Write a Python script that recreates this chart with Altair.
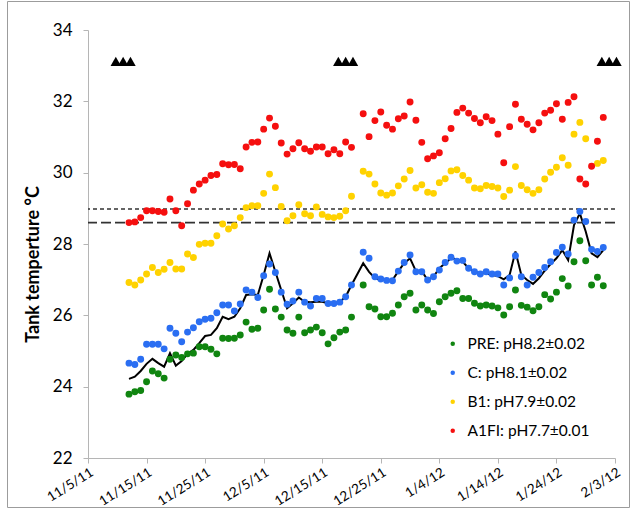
import altair as alt
import pandas as pd

# Daily readings, 11/12/11 - 2/1/12 (no reading on 12/21/11)
dates = [
    d.strftime("%Y-%m-%d")
    for d in pd.date_range("2011-11-12", "2012-02-01")
    if d.strftime("%Y-%m-%d") != "2011-12-21"
]

pre = [
    23.79, 23.86, 23.89, 24.14, 24.44, 24.36, 24.24, 24.77, 24.89, 24.82,
    24.92, 24.94, 25.12, 25.12, 25.05, 24.92, 25.36, 25.35, 25.36, 25.45,
    25.81, 25.61, 25.64, 26.15, 26.73, 26.18, 25.95, 25.59, 25.50, 25.95,
    25.51, 25.59, 25.67, 25.51, 25.20, 25.37, 25.53, 25.59, 25.95,
    26.85, 26.24, 26.18, 25.96, 25.96, 26.06, 26.29, 26.52, 26.62, 26.15,
    26.29, 26.15, 26.05, 26.38, 26.52, 26.62, 26.69, 26.47, 26.47, 26.34,
    26.26, 26.29, 26.26, 26.21, 26.01, 26.24, 26.71, 26.28, 26.23, 26.13,
    26.24, 26.58, 26.46, 26.65, 27.03, 26.82, 27.50, 28.09, 27.53, 26.85,
    27.07, 26.83,
]
c_ctrl = [
    24.66, 24.62, 24.77, 25.19, 25.19, 25.19, 25.06, 25.64, 25.50, 25.26,
    25.53, 25.65, 25.82, 25.89, 25.92, 26.07, 26.29, 26.29, 26.12, 26.32,
    26.71, 26.65, 26.50, 27.11, 27.44, 27.20, 26.65, 26.31, 26.40, 26.65,
    26.37, 26.26, 26.47, 26.47, 26.33, 26.33, 26.37, 26.52, 26.85,
    27.77, 27.60, 27.08, 27.02, 26.98, 26.97, 27.24, 27.48, 27.69, 27.22,
    27.22, 26.99, 27.08, 27.27, 27.48, 27.63, 27.52, 27.54, 27.32, 27.22,
    27.16, 27.22, 27.16, 27.16, 26.85, 27.05, 27.67, 27.08, 26.85, 27.07,
    27.20, 27.34, 27.50, 27.76, 27.91, 27.72, 28.67, 28.91, 28.63, 27.85,
    27.79, 27.90,
]
b1 = [
    26.92, 26.85, 26.99, 27.16, 27.34, 27.20, 27.29, 27.48, 27.30, 27.30,
    27.72, 27.62, 27.99, 28.02, 28.02, 28.23, 28.56, 28.42, 28.51, 28.74,
    29.02, 29.07, 29.07, 29.42, 29.96, 29.58, 29.05, 28.65, 28.79, 29.10,
    28.85, 28.79, 29.04, 28.83, 28.76, 28.74, 28.78, 28.93, 29.34,
    30.04, 29.96, 29.68, 29.43, 29.37, 29.43, 29.63, 29.82, 30.06, 29.57,
    29.66, 29.45, 29.42, 29.72, 29.83, 30.05, 30.08, 29.92, 29.79, 29.57,
    29.55, 29.64, 29.61, 29.57, 29.33, 29.51, 30.17, 29.64, 29.52, 29.42,
    29.52, 29.82, 30.01, 30.15, 30.42, 30.21, 31.08, 31.41, 30.95, None,
    30.26, 30.34,
]
a1fi = [
    28.60, 28.62, 28.74, 28.93, 28.93, 28.91, 28.89, 29.26, 28.93, 28.51,
    29.13, 29.51, 29.68, 29.79, 29.92, 29.95, 30.25, 30.22, 30.23, 30.11,
    30.72, 30.85, 30.86, 31.22, 31.53, 31.30, 30.83, 30.52, 30.67, 30.84,
    30.67, 30.60, 30.72, 30.72, 30.53, 30.64, 30.53, 30.86, 30.71,
    31.65, 31.01, 31.46, 31.70, 31.33, 31.22, 31.51, 31.59, 31.98, 31.47,
    30.85, 30.39, 30.47, 30.56, 30.95, 31.24, 31.69, 31.81, 31.67, 31.52,
    31.40, 31.57, 31.46, 31.08, 30.28, 31.29, 31.92, 31.50, 31.36, 31.20,
    31.40, 31.67, 31.75, 31.93, 31.50, 31.97, 32.13, 29.82, 29.68, 30.18,
    30.88, 31.55,
]
# Ambient (black line)
ambient = [
    24.22, 24.28, 24.44, 24.64, 24.78, 24.66, 24.56, 24.94, 24.59, 24.72,
    24.92, 25.03, 25.22, 25.42, 25.45, 25.64, 25.96, 25.89, 25.96, 26.20,
    26.57, 26.59, 26.57, 27.13, 27.74, 27.22, 26.71, 26.20, 26.34, 26.50,
    26.38, 26.37, 26.38, 26.38, 26.34, 26.34, 26.38, 26.52, 26.85,
    27.46, 27.22, 27.04, 26.99, 26.99, 26.99, 27.24, 27.46, 27.60, 27.24,
    27.24, 26.99, 27.08, 27.32, 27.46, 27.60, 27.57, 27.50, 27.32, 27.22,
    27.18, 27.18, 27.13, 27.10, 27.01, 27.13, 27.79, 27.13, 26.99, 26.88,
    27.04, 27.25, 27.44, 27.60, 27.83, 27.55, 28.53, 28.86, 28.35, 27.74,
    27.63, 27.83,
]

labels = ["PRE: pH8.2±0.02", "C: pH8.1±0.02", "B1: pH7.9±0.02", "A1FI: pH7.7±0.01"]
colors = ["#108510", "#2a6ef2", "#ffd200", "#f50f0f"]

# Reference levels (dashed)
short_dash_level = [28.98]
long_dash_level = [28.60]

# Triangle markers near the top of the panel
tri_dates = [
    "2011-11-09T18:00:00Z", "2011-11-11T00:00:00Z", "2011-11-12T06:00:00Z",
    "2011-12-17T18:00:00Z", "2011-12-19T00:00:00Z", "2011-12-20T06:00:00Z",
    "2012-01-31T18:00:00Z", "2012-02-02T00:00:00Z", "2012-02-03T06:00:00Z",
]
tri_level = 33.12

tick_dates = [
    (2011, 11, 5), (2011, 11, 15), (2011, 11, 25), (2011, 12, 5), (2011, 12, 15),
    (2011, 12, 25), (2012, 1, 4), (2012, 1, 14), (2012, 1, 24), (2012, 2, 3),
]
y_ticks = [22, 24, 26, 28, 30, 32, 34]

# ---- tables ----
rows = []
for k, (lab, vals) in enumerate(zip(labels, [pre, c_ctrl, b1, a1fi])):
    for d, v in zip(dates, vals):
        if v is not None:
            rows.append({"date": d, "temp": v, "series": lab, "k": k})
pts_df = pd.DataFrame(rows)
line_df = pd.DataFrame({"date": dates, "temp": ambient})
tri_df = pd.DataFrame({"date": tri_dates, "temp": [tri_level] * len(tri_dates)})

FONT = "Lato"
AXIS_GRAY = "#b5b5b5"

x_scale = alt.Scale(
    type="utc",
    domain=[alt.DateTime(year=2011, month=11, date=5, utc=True),
            alt.DateTime(year=2012, month=2, date=3, utc=True)],
)
y_scale = alt.Scale(domain=[22, 34], nice=False, zero=False)

x_axis = alt.Axis(
    values=[alt.DateTime(year=y, month=m, date=d, utc=True) for y, m, d in tick_dates],
    format="%-m/%-d/%y",
    labelAngle=-32, labelAlign="right", labelBaseline="top",
    labelFont=FONT, labelFontSize=13.5, labelColor="black", labelPadding=2,
    grid=False, domainColor=AXIS_GRAY, tickColor=AXIS_GRAY, tickSize=5,
    title=None, labelOverlap=False,
)
y_axis = alt.Axis(
    values=y_ticks,
    labelFont=FONT, labelFontSize=17, labelColor="black", labelPadding=11,
    grid=False, domainColor=AXIS_GRAY, tickColor=AXIS_GRAY, tickSize=5,
    title="Tank temperture °C", titleFont=FONT, titleFontSize=18,
    titleFontWeight="bold", titleColor="black", titleAngle=-90,
    titleX=-55, titleY=234, titleAlign="center", titleBaseline="middle",
)


def xenc():
    return alt.X("date:T", scale=x_scale, axis=x_axis)


def yenc():
    return alt.Y("temp:Q", scale=y_scale, axis=y_axis)


frame = alt.Chart(pd.DataFrame({"k": [0]})).mark_rect(
    fill=None, stroke="#9c9c9c", strokeWidth=1
).encode(x=alt.value(-80.5), x2=alt.value(541.5), y=alt.value(-28.5), y2=alt.value(477.5))

short_rule = alt.Chart(pd.DataFrame({"temp": short_dash_level})).mark_rule(
    color="#333333", strokeWidth=1.6, strokeDash=[4, 3]
).encode(y=yenc())
long_rule = alt.Chart(pd.DataFrame({"temp": long_dash_level})).mark_rule(
    color="#333333", strokeWidth=1.6, strokeDash=[10, 4]
).encode(y=yenc())

line = alt.Chart(line_df).mark_line(color="black", strokeWidth=2).encode(x=xenc(), y=yenc())

points = alt.Chart(pts_df).mark_circle(size=48, opacity=1).encode(
    x=xenc(),
    y=yenc(),
    color=alt.Color(
        "series:N",
        scale=alt.Scale(domain=labels, range=colors),
        legend=alt.Legend(
            orient="none", legendX=357, legendY=306, title=None,
            symbolType="circle", symbolSize=20, symbolStrokeWidth=0,
            labelFont=FONT, labelFontSize=15.5, labelColor="black",
            labelOffset=7, rowPadding=12, padding=0,
        ),
    ),
    order=alt.Order("k:Q"),
)

tris = alt.Chart(tri_df).mark_point(
    shape="triangle-up", filled=True, color="black", size=110, opacity=1
).encode(x=xenc(), y=yenc())

chart = alt.layer(frame, short_rule, long_rule, line, points, tris).properties(
    width=527, height=428,
    autosize=alt.AutoSizeParams(type="none"),
    padding={"left": 88, "top": 30, "right": 21, "bottom": 52},
    background="white",
).configure_view(stroke=None)

chart.save("out.html", embed_options={"renderer": "svg", "actions": False})
